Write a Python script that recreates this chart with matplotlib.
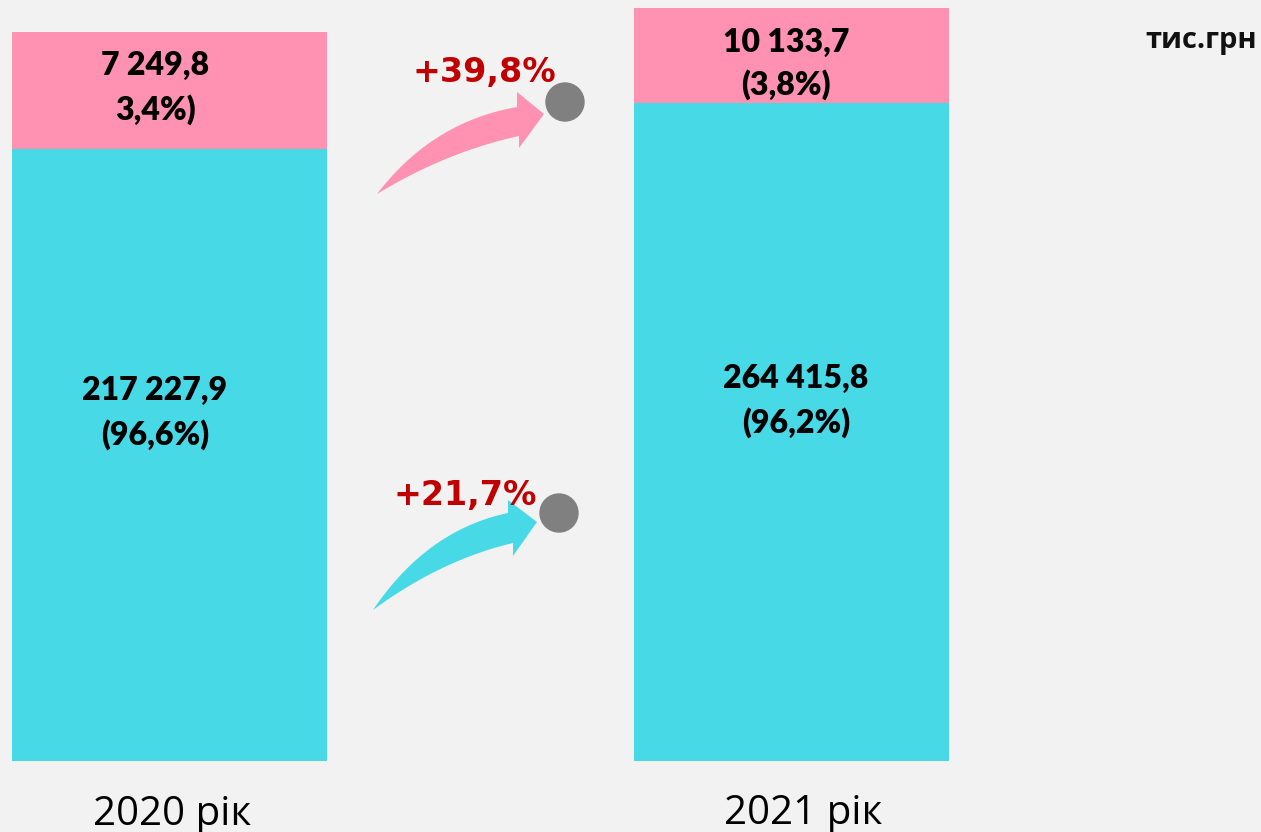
import numpy as np
import matplotlib
matplotlib.use("Agg")
import matplotlib.pyplot as plt
from matplotlib.patches import Polygon, Circle

# ── data ──────────────────────────────────────────────────────────────
years = ["2020 рік", "2021 рік"]
values_main = [217227.9, 264415.8]        # cyan segment
values_other = [7249.8, 10133.7]          # pink segment
shares_main = ["(96,6%)", "(96,2%)"]
shares_other = ["3,4%)", "(3,8%)"]
growth_labels = ["+39,8%", "+21,7%"]       # pink, cyan
unit_label = "тис.грн"

# bar segment heights as drawn in the picture (schematic, not to scale)
height_main = [612, 658]
height_other = [117, 95]

# ── layout (pixel-like units, y measured up from figure bottom) ──────
W, H = 1261, 832
BG = "#f2f2f2"
CYAN = "#48d9e7"
PINK = "#ff91b3"
RED = "#c00000"
GREY = "#808080"


def Y(py):
    return H - py


bar_x = [169.5, 791.5]
bar_w = 315
bar_bottom = Y(761)


def fmt(v):
    return f"{v:,.1f}".replace(",", " ").replace(".", ",")


fig = plt.figure(figsize=(W / 100, H / 100), dpi=100)
fig.patch.set_facecolor(BG)
ax = fig.add_axes([0, 0, 1, 1])
ax.set_xlim(0, W)
ax.set_ylim(0, H)
ax.axis("off")

ax.bar(bar_x, height_main, width=bar_w, bottom=bar_bottom, color=CYAN)
ax.bar(bar_x, height_other, width=bar_w,
       bottom=[bar_bottom + h for h in height_main], color=PINK)

# value labels: (x centre, baseline line1, baseline line2) in px from top
lbl_font = dict(family="Lato", fontweight="heavy", fontsize=23,
                color="black", ha="center", va="baseline")
other_pos = [(155, 75, 120), (786, 52, 95)]
main_pos = [(155, 400, 445), (796, 388, 433)]
for i in range(2):
    x, b1, b2 = other_pos[i]
    ax.text(x, Y(b1), fmt(values_other[i]), **lbl_font)
    ax.text(x, Y(b2), shares_other[i], **lbl_font)
    x, b1, b2 = main_pos[i]
    ax.text(x, Y(b1), fmt(values_main[i]), **lbl_font)
    ax.text(x, Y(b2), shares_main[i], **lbl_font)

# year labels
year_pos = [(172, 825), (803, 824)]
for (x, b), t in zip(year_pos, years):
    ax.text(x, Y(b), t, family="Open Sans", fontsize=29, color="black",
            ha="center", va="baseline")

ax.text(1257, Y(48), unit_label, family="Open Sans", fontweight="bold",
        fontsize=21, color="#111111", ha="right", va="baseline")


# ── curved growth arrows ─────────────────────────────────────────────
def bez(p0, p1, p2, n=50):
    t = np.linspace(0, 1, n)[:, None]
    p0, p1, p2 = map(np.asarray, (p0, p1, p2))
    return (1 - t) ** 2 * p0 + 2 * (1 - t) * t * p1 + t ** 2 * p2


def curved_arrow(tail, c_top, base_top, c_bot, base_bot,
                 head_top, tip, head_bot, color):
    top = bez(tail, c_top, base_top)
    bot = bez(tail, c_bot, base_bot)[::-1]
    pts = np.vstack([top, [head_top, tip, head_bot], bot])
    pts[:, 1] = H - pts[:, 1]
    ax.add_patch(Polygon(pts, closed=True, facecolor=color,
                         edgecolor="none"))


curved_arrow((377, 194), (432, 122), (517, 107), (446, 152), (519, 136),
             (517, 92), (544, 114), (519, 148), PINK)
curved_arrow((373, 610), (427, 530), (508, 513), (441, 560), (513, 543),
             (508, 500), (537, 522), (513, 556), CYAN)

ax.add_patch(Circle((565, Y(102)), 19, color=GREY))
ax.add_patch(Circle((559, Y(513)), 19, color=GREY))

growth_pos = [(484, 82), (465, 505)]
for (x, b), t in zip(growth_pos, growth_labels):
    ax.text(x, Y(b), t, family="DejaVu Sans", fontweight="bold",
            fontsize=24, color=RED, ha="center", va="baseline")

fig.savefig("out.png", dpi=100, facecolor=fig.get_facecolor())
